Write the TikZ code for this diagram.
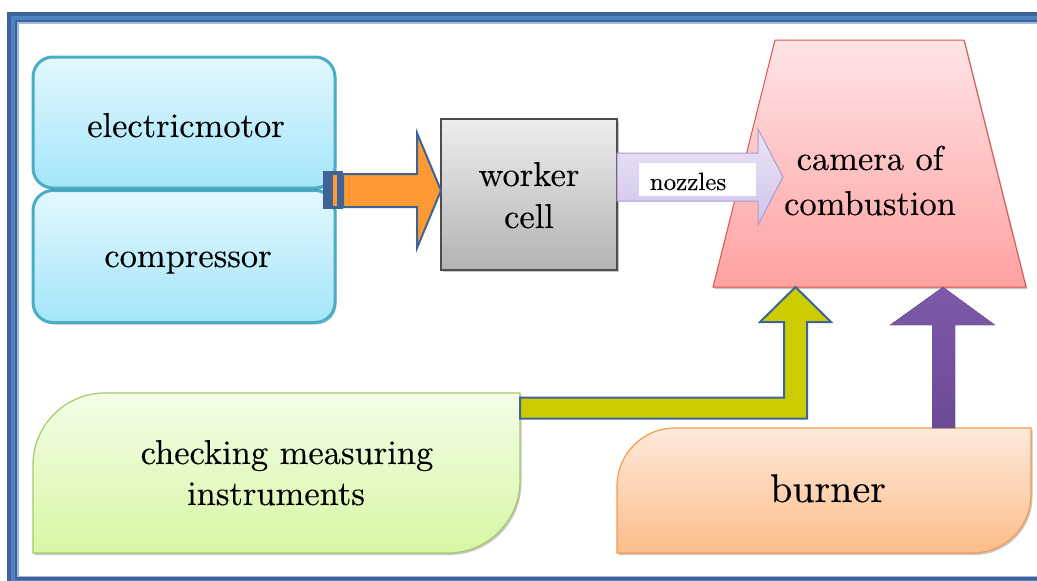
\documentclass[tikz,border=0pt]{standalone}
\usepackage{fontspec}
\setmainfont{lmroman10-regular.otf}[FakeBold=0.25]
\usetikzlibrary{shadows}
\definecolor{frameDark}{HTML}{3C649B}
\definecolor{frameMid}{HTML}{4F80BF}
\definecolor{frameLight}{HTML}{A3BAD8}
\definecolor{cyanLine}{HTML}{4BACC6}
\definecolor{cyanTop}{HTML}{E2F8FE}
\definecolor{cyanBot}{HTML}{A4E5F9}
\definecolor{grayTop}{HTML}{EDEDED}
\definecolor{grayBot}{HTML}{B3B3B3}
\definecolor{grayLine}{HTML}{4D4D4D}
\definecolor{arrowBlue}{HTML}{3D6494}
\definecolor{orangeA}{HTML}{FF9933}
\definecolor{lavTop}{HTML}{ECE5F6}
\definecolor{lavBot}{HTML}{CFC3EA}
\definecolor{lavLine}{HTML}{A99BD0}
\definecolor{trapTop}{HTML}{FFE4E6}
\definecolor{trapBot}{HTML}{FFA1A1}
\definecolor{trapLine}{HTML}{D9534F}
\definecolor{greenTop}{HTML}{F4FDE8}
\definecolor{greenBot}{HTML}{D6F7A4}
\definecolor{greenLine}{HTML}{A5C96A}
\definecolor{peachTop}{HTML}{FEE9DB}
\definecolor{peachBot}{HTML}{FCBD8A}
\definecolor{peachLine}{HTML}{F59A4E}
\definecolor{yellowA}{HTML}{CCCC00}
\definecolor{purpleTop}{HTML}{7D5AA9}
\definecolor{purpleBot}{HTML}{6B4A95}
\tikzset{
  softshadow/.style={drop shadow={shadow xshift=1.5pt, shadow yshift=-2pt, fill=black, opacity=0.22}},
  cyanbox/.style={draw=cyanLine, line width=3, rounded corners=20, top color=cyanTop, bottom color=cyanBot,
    minimum width=302, minimum height=131, inner sep=0, softshadow},
  graybox/.style={draw=grayLine, line width=1.2, top color=grayTop, bottom color=grayBot,
    minimum width=176, minimum height=151, inner sep=0, softshadow},
  lbl/.style={anchor=base, inner sep=0, font=\rmfamily\fontsize{34.5}{42}\selectfont},
  blockarrow/.style={draw=arrowBlue, line width=2},
}
\begin{document}
\begin{tikzpicture}[x=1pt, y=-1pt]
\useasboundingbox (0,0) rectangle (1037,581);
\clip (0,0) rectangle (1037,581);
\fill[white] (0,0) rectangle (1037,581);
% frame
\draw[line width=11, frameDark] (12.5,17.5) rectangle (1060,582);
\draw[line width=4, frameMid] (12.5,17.5) rectangle (1060,582);
\draw[line width=1.5, frameLight] (18,23) rectangle (1060,576.5);

% left blue boxes
\node[cyanbox, minimum height=132] (cp) at (184,256.5) {};
\node[cyanbox] (em) at (184,122.5) {};
\node[lbl] (tem) at (186,137) {electricmotor};
\node[lbl] (tcp) at (188,267) {compressor};

% worker cell
\node[graybox] (wc) at (529,194.5) {};
\node[lbl] (tw1) at (529,186) {worker};
\node[lbl] (tw2) at (529,228) {cell};

% orange arrow
\draw[blockarrow, fill=orangeA, line join=miter] (343,174) -- (417,174) -- (417,133) -- (441,190.5) -- (417,248) -- (417,207) -- (343,207) -- cycle;
\fill[arrowBlue] (323,171) rectangle (343,209);
\fill[orangeA] (333,174.5) rectangle (336.5,205.5);

% combustion chamber
\draw[trapLine, line width=1, top color=trapTop, bottom color=trapBot, softshadow]
  (775,40) -- (964,40) -- (1026,287) -- (713,287) -- cycle;
\node[lbl] (tc1) at (870,170) {camera of};
\node[lbl] (tc2) at (870,215) {combustion};

% nozzles arrow
\draw[lavLine, line width=1, top color=lavTop, bottom color=lavBot]
  (617,153) -- (758,153) -- (758,129) -- (783,177) -- (758,225) -- (758,201) -- (617,201) -- cycle;
\node[fill=white, minimum width=117, minimum height=33, inner sep=0] (nzl) at (697.5,179.5) {};
\node[anchor=base, inner sep=0, font=\rmfamily\fontsize{25}{30}\selectfont] (tnz) at (688,190) {nozzles};

% checking measuring instruments
\draw[greenLine, line width=1.2, top color=greenTop, bottom color=greenBot, softshadow]
  (33,553) -- (33,465) arc[start angle=180, end angle=270, radius=72] -- (520,393)
  -- (520,481) arc[start angle=0, end angle=90, radius=72] -- cycle;
\node[lbl] (tk1) at (287,464) {checking measuring};
\node[lbl] (tk2) at (276,505) {instruments};

% burner
\draw[peachLine, line width=1.2, top color=peachTop, bottom color=peachBot, softshadow]
  (617,553) -- (617,486) arc[start angle=180, end angle=270, radius=58] -- (1031,428)
  -- (1031,495) arc[start angle=0, end angle=90, radius=58] -- cycle;
\node[anchor=base, inner sep=0, font=\rmfamily\fontsize{40}{48}\selectfont] (tb) at (828,502) {burner};

% yellow arrow
\draw[blockarrow, fill=yellowA]
  (520,397.5) -- (784,397.5) -- (784,322) -- (760,322) -- (795.5,287) -- (831,322)
  -- (807,322) -- (807,418.5) -- (520,418.5) -- cycle;

% purple arrow
\fill[top color=purpleTop, bottom color=purpleBot]
  (932,428) -- (932,325) -- (890,325) -- (943,287) -- (995,325) -- (955,325) -- (955,428) -- cycle;
\end{tikzpicture}
\end{document}
